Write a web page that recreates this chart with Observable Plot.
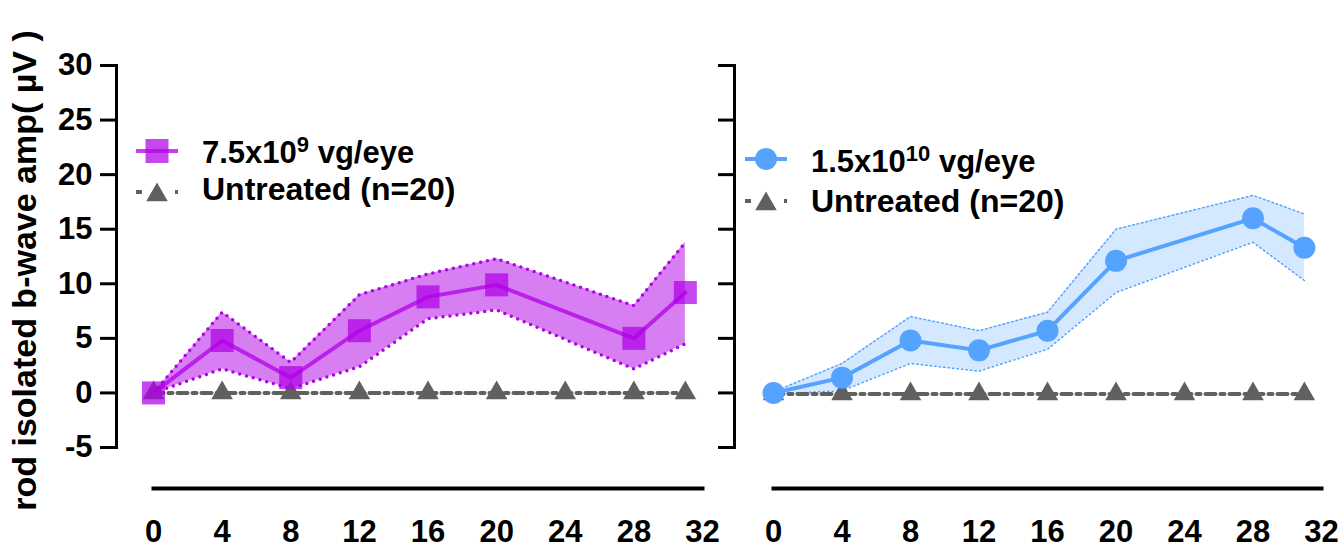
<!DOCTYPE html>
<html><head><meta charset="utf-8">
<script src="https://cdn.jsdelivr.net/npm/d3@7"></script>
<script src="https://cdn.jsdelivr.net/npm/@observablehq/plot@0.6"></script>
<style>
body{margin:0;background:#fff;}
#wrap{position:relative;width:1341px;height:555px;overflow:hidden;font-family:"Liberation Sans",Arial,sans-serif;}
#wrap svg{position:absolute;top:0;overflow:visible;}
</style></head><body><div id="wrap"></div>
<script>
// ---- data ----
const weeks = [0, 4, 8, 12, 16, 20, 28, 31];
const lowMean  = [0, 4.8, 1.4, 5.7, 8.8, 9.9, 5.0, 9.2];
const lowUpper = [0, 7.4, 2.8, 9.0, 10.9, 12.3, 8.0, 13.8];
const lowLower = [0, 2.2, 0.4, 2.4, 6.8, 7.6, 2.2, 4.5];
const highMean  = [0, 1.4, 4.8, 3.9, 5.7, 12.1, 16.0, 13.3];
const highUpper = [0.1, 2.7, 7.0, 5.7, 7.4, 15.0, 18.1, 16.4];
const highLower = [-0.1, 0.2, 2.7, 2.0, 4.0, 9.2, 13.8, 10.3];
const untreatedWeeks = [0, 4, 8, 12, 16, 20, 24, 28, 31];
const untreatedLeft  = [0, 0, 0, 0, 0, 0, 0, 0, 0];
const untreatedRight = [-0.1, -0.1, -0.1, -0.1, -0.1, -0.1, -0.1, -0.1, -0.1];
const xTicks = [0, 4, 8, 12, 16, 20, 24, 28, 32];
const yTicks = [-5, 0, 5, 10, 15, 20, 25, 30];
const yLabel = "rod isolated b-wave amp( \u00b5V )";
const lowLabel = ["7.5x10", "9", " vg/eye"];
const highLabel = ["1.5x10", "10", " vg/eye"];
const untreatedLabel = "Untreated (n=20)";

const PURPLE = "#b000e6", BLUE = "#55a3ff", GRAY = "#606060";
const FONT = "'Liberation Sans', Arial, sans-serif";

const tbl = (m, u, l) => weeks.map((w, i) => ({w, m: m[i], u: u[i], l: l[i]}));
const utbl = (v) => untreatedWeeks.map((w, i) => ({w, v: v[i]}));

function panel(opts) {
  const {width, marginLeft, marginRight, axisDx, rows, untreated, color, symbol, r,
         fillOpacity, bandOpacity, edgeDash, edgeWidth, lineOpacity, showLabels} = opts;
  const marks = [
    Plot.areaY(rows, {x: "w", y1: "l", y2: "u", fill: color, fillOpacity: bandOpacity}),
    Plot.line(rows, {x: "w", y: "u", stroke: color, strokeWidth: edgeWidth, strokeDasharray: edgeDash, strokeLinecap: "round"}),
    Plot.line(rows, {x: "w", y: "l", stroke: color, strokeWidth: edgeWidth, strokeDasharray: edgeDash, strokeLinecap: "round"}),
    Plot.line(untreated, {x: "w", y: "v", stroke: GRAY, strokeWidth: 4, strokeDasharray: "10,5,4,5"}),
    Plot.dot(untreated, {x: "w", y: "v", symbol: "triangle", r: 8, fill: GRAY, stroke: null}),
    Plot.line(rows, {x: "w", y: "m", stroke: color, strokeWidth: 4, strokeOpacity: lineOpacity}),
    Plot.dot(rows, {x: "w", y: "m", symbol, r, fill: color, fillOpacity, stroke: null}),
    Plot.frame({anchor: "left", dx: axisDx, stroke: "black", strokeWidth: 3}),
    Plot.frame({anchor: "bottom", dy: 41, stroke: "black", strokeWidth: 4}),
    Plot.axisY({ticks: yTicks, tickSize: 16, tickPadding: 8, dx: axisDx, strokeWidth: 3, stroke: "black",
      fontSize: 31, fontWeight: "bold", fill: "black",
      tickFormat: showLabels ? (d => String(d)) : (() => ""), label: null}),
    Plot.axisX({ticks: xTicks, tickSize: 0, tickPadding: 72, fontSize: 31, fontWeight: "bold", fill: "black",
      tickFormat: d => String(d), label: null})
  ];
  if (showLabels) marks.push(Plot.text([yLabel], {frameAnchor: "left", textAnchor: "middle", lineAnchor: "middle",
      dx: -128, dy: 14, rotate: -90, fontSize: 34, fontWeight: "bold", fill: "black"}));
  return Plot.plot({
    width, height: 555, marginLeft, marginRight, marginTop: 65, marginBottom: 108,
    x: {domain: [0, 32]}, y: {domain: [-5, 30]},
    style: {fontFamily: FONT, overflow: "visible", background: "transparent"},
    marks
  });
}

const wrap = document.getElementById("wrap");
const left = panel({width: 710, marginLeft: 153, marginRight: 8, axisDx: -37,
  rows: tbl(lowMean, lowUpper, lowLower), untreated: utbl(untreatedLeft), color: PURPLE,
  symbol: "square", r: 13, fillOpacity: 0.72, bandOpacity: 0.5, edgeDash: "0,7", edgeWidth: 3.5,
  lineOpacity: 0.75, showLabels: true});
left.style.left = "0px";
const right = panel({width: 631, marginLeft: 63, marginRight: 20, axisDx: -39,
  rows: tbl(highMean, highUpper, highLower), untreated: utbl(untreatedRight), color: BLUE,
  symbol: "circle", r: 11, fillOpacity: 1, bandOpacity: 0.25, edgeDash: "1.5,3", edgeWidth: 1.5,
  lineOpacity: 1, showLabels: false});
right.style.left = "710px";
wrap.appendChild(left);
wrap.appendChild(right);

// ---- legends ----
const lg = d3.select(wrap).append("svg").attr("width", 1341).attr("height", 555)
  .style("left", "0px").style("pointer-events", "none").style("font-family", FONT);

function legend(g, cfg) {
  const {x, y1, y2, b1, b2, color, kind, label} = cfg;
  g.append("line").attr("x1", x - 21).attr("x2", x + 21).attr("y1", y1).attr("y2", y1)
    .attr("stroke", color).attr("stroke-width", 4).attr("stroke-opacity", kind === "square" ? 0.75 : 1);
  if (kind === "square") {
    g.append("rect").attr("x", x - 11.5).attr("y", y1 - 12).attr("width", 23).attr("height", 24)
      .attr("fill", color).attr("fill-opacity", 0.72);
  } else {
    g.append("circle").attr("cx", x).attr("cy", y1).attr("r", 11).attr("fill", color);
  }
  const t = g.append("text").attr("x", x + 45).attr("y", b1).attr("font-size", 31).attr("font-weight", "bold");
  t.append("tspan").text(label[0]);
  t.append("tspan").attr("font-size", 22).attr("dy", -11).text(label[1]);
  t.append("tspan").attr("dy", 11).text(label[2]);
  g.append("line").attr("x1", x - 21).attr("x2", x + 21).attr("y1", y2).attr("y2", y2)
    .attr("stroke", GRAY).attr("stroke-width", 4).attr("stroke-dasharray", "6,33,3,100");
  g.append("path").attr("d", d3.symbol(d3.symbolTriangle, Math.PI * 64)())
    .attr("transform", `translate(${x},${y2 + 3})`).attr("fill", GRAY);
  g.append("text").attr("x", x + 45).attr("y", b2).attr("font-size", 32).attr("font-weight", "bold")
    .text(untreatedLabel);
}
legend(lg.append("g"), {x: 157, y1: 151, y2: 192, b1: 163, b2: 200, color: PURPLE, kind: "square", label: lowLabel});
legend(lg.append("g"), {x: 766, y1: 159, y2: 201, b1: 172, b2: 212, color: BLUE, kind: "circle", label: highLabel});
</script></body></html>
